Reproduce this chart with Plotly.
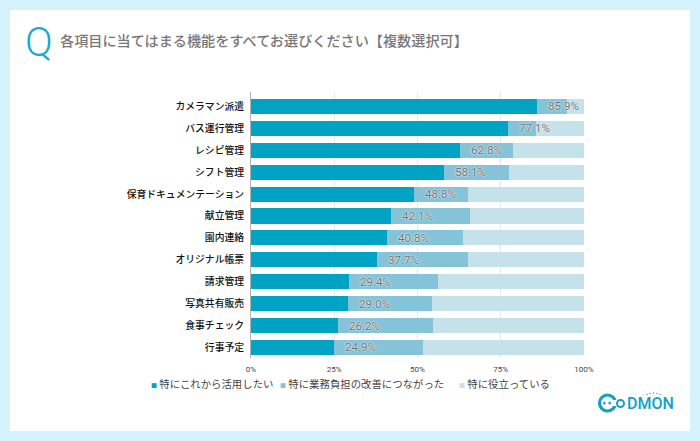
import plotly.graph_objects as go

categories = ["カメラマン派遣","バス運行管理","レシピ管理","シフト管理","保育ドキュメンテーション","献立管理","園内連絡","オリジナル帳票","請求管理","写真共有販売","食事チェック","行事予定"]
series_names = ["特にこれから活用したい","特に業務負担の改善につながった","特に役立っている"]
first = [85.9,77.1,62.8,58.1,48.8,42.1,40.8,37.7,29.4,29.0,26.2,24.9]
second = [9.0,8.5,16.0,19.4,16.5,23.8,22.8,27.4,26.8,25.3,28.5,26.7]
third = [5.1,14.4,21.2,22.5,34.7,34.1,36.4,34.9,43.8,45.7,45.3,48.4]
colors = ["#00A3C4","#85C4D8","#C5E1EA"]
tick_vals = [0,25,50,75,100]
tick_text = ["0%","25%","50%","75%","100%"]
JP = "Noto Sans CJK JP"
W, H = 700, 441
LOGO = "#12A2BF"
PX0, PX1, PY0, PY1 = 251, 584, 92, 358

fig = go.Figure()
for name, vals, c in zip(series_names, [first, second, third], colors):
    fig.add_trace(go.Bar(y=categories, x=vals, name=name, orientation="h", marker=dict(color=c, line=dict(width=0)), hoverinfo="skip"))

def rx(x): return x / W
def ry(y): return 1 - y / H
shapes = [dict(type="rect", xref="paper", yref="paper", x0=rx(10), x1=rx(690), y0=ry(431), y1=ry(10),
               fillcolor="white", line=dict(width=0), layer="below"),
          dict(type="circle", xref="paper", yref="paper", x0=rx(599.5), x1=rx(615.5), y0=ry(411), y1=ry(395),
               fillcolor="rgba(0,0,0,0)", line=dict(color=LOGO, width=3.2)),
          dict(type="rect", xref="paper", yref="paper", x0=rx(612.5), x1=rx(618), y0=ry(406), y1=ry(400),
               fillcolor="white", line=dict(width=0)),
          dict(type="circle", xref="paper", yref="paper", x0=rx(603), x1=rx(605.6), y0=ry(404.5), y1=ry(401.5),
               fillcolor=LOGO, line=dict(width=0)),
          dict(type="circle", xref="paper", yref="paper", x0=rx(608.4), x1=rx(611), y0=ry(404.5), y1=ry(401.5),
               fillcolor=LOGO, line=dict(width=0)),
          dict(type="circle", xref="paper", yref="paper", x0=rx(617), x1=rx(624), y0=ry(407), y1=ry(400),
               fillcolor="rgba(0,0,0,0)", line=dict(color=LOGO, width=2)),
          ]
for dx, dy in [(647, 394.5), (650, 393.5), (653.5, 393), (657, 393.5), (660, 394.5)]:
    shapes.append(dict(type="circle", xref="paper", yref="paper", x0=rx(dx-0.7), x1=rx(dx+0.7), y0=ry(dy+0.7), y1=ry(dy-0.7),
                       fillcolor=LOGO, line=dict(width=0)))

fig.update_layout(
    width=W, height=H, margin=dict(l=0, r=0, t=0, b=0), autosize=False,
    paper_bgcolor="#D3F2FB", plot_bgcolor="rgba(0,0,0,0)",
    barmode="stack", bargap=0.31, showlegend=False,
    font=dict(family=JP),
    xaxis=dict(domain=[PX0/W, PX1/W], range=[0,100], tickvals=tick_vals, ticktext=tick_text,
               tickfont=dict(size=8, color="#444444", family="Roboto"), showgrid=True, gridcolor="#E8E8E8", gridwidth=1,
               zeroline=False, ticks="", ticklabelstandoff=5, automargin=False),
    yaxis=dict(domain=[1-PY1/H, 1-PY0/H], range=[11.48,-0.66], tickfont=dict(size=9.8, color="#111111", family=JP, weight=500),
               showline=True, linecolor="#B0B0B0", linewidth=1, ticks="", showgrid=False, ticklabelstandoff=4, zeroline=False, automargin=False),
    shapes=shapes,
)
halo = "0 0 2px #FFFFFF, 0 0 1px #FFFFFF"
for cat, v in zip(categories, first):
    fig.add_annotation(x=v, y=cat, text=f"{v:.1f}%", showarrow=False, xanchor="left", xshift=9,
                       font=dict(size=11.5, color="#707070", family="Roboto", shadow=halo))
def px(x, y, **k):
    fig.add_annotation(xref="x domain", yref="y domain", x=(x-PX0)/(PX1-PX0), y=(PY1-y)/(PY1-PY0), showarrow=False, **k)
px(23, 42, text="Q", xanchor="left", yanchor="middle", font=dict(size=41, color="#1FA8C9", family="Roboto", weight=300))
px(58, 40, text="各項目に当てはまる機能をすべてお選びください【複数選択可】", xanchor="left", yanchor="middle",
   font=dict(size=14.15, color="#777777", family=JP, weight=500))
for n, c, lx in zip(series_names, colors, [149, 278, 457]):
    px(lx, 383.5, text=f'<span style="color:{c};font-size:6px">■</span> {n}', xanchor="left", yanchor="middle",
       font=dict(size=10.4, color="#444444", family=JP))
px(624.5, 403, text="DMON", xanchor="left", yanchor="middle", font=dict(size=16, color=LOGO, family="Roboto", weight=500))
fig.write_html("out.html", post_script="document.body.style.margin='0';", config=dict(displayModeBar=False))
